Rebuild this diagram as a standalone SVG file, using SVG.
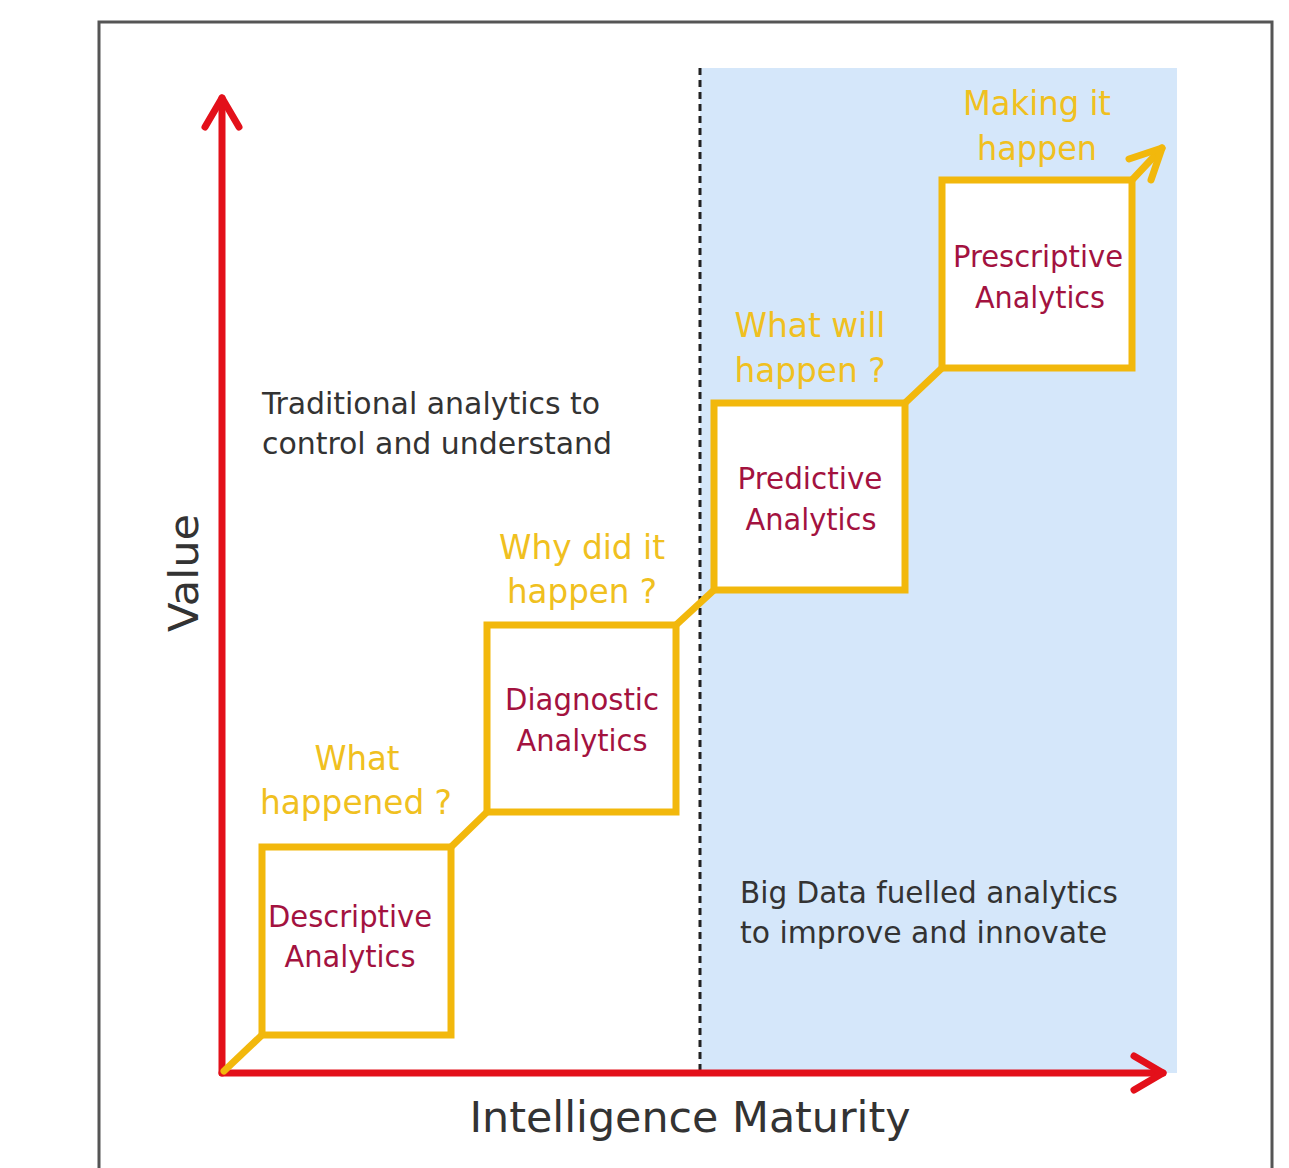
<svg xmlns="http://www.w3.org/2000/svg" width="1289" height="1168" viewBox="0 0 1289 1168">
<style>
.txt{font-family:"DejaVu Sans Condensed","DejaVu Sans",Verdana,sans-serif}
.note{font-size:30px;fill:#333333}
.q{font-size:33px;fill:#f0c020;text-anchor:middle}
.lbl{font-size:31px;fill:#a3123f;text-anchor:middle}
.box{fill:#ffffff;stroke:#f2b80c;stroke-width:7}
.yl{fill:none;stroke:#f2b80c;stroke-width:7;stroke-linecap:round;stroke-linejoin:round}
.axis{fill:none;stroke:#e3101a;stroke-width:7;stroke-linecap:round;stroke-linejoin:round}
</style>
<rect x="0" y="0" width="1289" height="1168" fill="#ffffff"/>
<g id="frame">
<path d="M99 1168 V22 H1272 V1168" fill="none" stroke="#555555" stroke-width="3"/>
</g>
<g id="region">
<rect x="700" y="68" width="477" height="1005" fill="#d5e7fa"/>
<line x1="700" y1="68" x2="700" y2="1076" stroke="#222222" stroke-width="3" stroke-dasharray="7,5"/>
</g>
<g id="connectors">
<path class="axis" d="M222 1073 V98"/>
<path class="axis" d="M205 127 L222 98 L239 127"/>
<path class="axis" d="M222 1073 H1163"/>
<path class="axis" d="M1134 1056 L1163 1073 L1134 1090"/>
<path class="yl" d="M224 1071 L262 1035"/>
<path class="yl" d="M451 847 L487 812"/>
<path class="yl" d="M676 625 L714 590"/>
<path class="yl" d="M905 403 L942 368"/>
<path class="yl" d="M1132 180 L1162 148"/>
<path class="yl" d="M1129 159 L1162 148 L1151 180"/>
</g>
<g id="descriptive">
<rect class="box" x="262" y="847" width="189" height="188"/>
<text class="txt lbl" x="350" y="927" textLength="164" lengthAdjust="spacingAndGlyphs">Descriptive</text>
<text class="txt lbl" x="350" y="967" textLength="131" lengthAdjust="spacingAndGlyphs">Analytics</text>
</g>
<g id="diagnostic">
<rect class="box" x="487" y="625" width="189" height="187"/>
<text class="txt lbl" x="582" y="710" textLength="154" lengthAdjust="spacingAndGlyphs">Diagnostic</text>
<text class="txt lbl" x="582" y="751" textLength="131" lengthAdjust="spacingAndGlyphs">Analytics</text>
</g>
<g id="predictive">
<rect class="box" x="714" y="403" width="191" height="187"/>
<text class="txt lbl" x="810" y="489" textLength="145" lengthAdjust="spacingAndGlyphs">Predictive</text>
<text class="txt lbl" x="811" y="530" textLength="131" lengthAdjust="spacingAndGlyphs">Analytics</text>
</g>
<g id="prescriptive">
<rect class="box" x="942" y="180" width="190" height="188"/>
<text class="txt lbl" x="1038" y="267" textLength="170" lengthAdjust="spacingAndGlyphs">Prescriptive</text>
<text class="txt lbl" x="1040" y="308" textLength="130" lengthAdjust="spacingAndGlyphs">Analytics</text>
</g>
<g id="questions">
<text class="txt q" x="357" y="770" textLength="85" lengthAdjust="spacingAndGlyphs">What</text>
<text class="txt q" x="356" y="814" textLength="192" lengthAdjust="spacingAndGlyphs">happened ?</text>
<text class="txt q" x="582" y="559" textLength="166" lengthAdjust="spacingAndGlyphs">Why did it</text>
<text class="txt q" x="582" y="603" textLength="150" lengthAdjust="spacingAndGlyphs">happen ?</text>
<text class="txt q" x="810" y="337" textLength="151" lengthAdjust="spacingAndGlyphs">What will</text>
<text class="txt q" x="810" y="382" textLength="151" lengthAdjust="spacingAndGlyphs">happen ?</text>
<text class="txt q" x="1037" y="115" textLength="148" lengthAdjust="spacingAndGlyphs">Making it</text>
<text class="txt q" x="1037" y="160" textLength="120" lengthAdjust="spacingAndGlyphs">happen</text>
</g>
<g id="notes">
<text class="txt note" x="262" y="414" textLength="338" lengthAdjust="spacingAndGlyphs">Traditional analytics to</text>
<text class="txt note" x="262" y="454" textLength="350" lengthAdjust="spacingAndGlyphs">control and understand</text>
<text class="txt note" x="740" y="903" textLength="378" lengthAdjust="spacingAndGlyphs">Big Data fuelled analytics</text>
<text class="txt note" x="740" y="943" textLength="367" lengthAdjust="spacingAndGlyphs">to improve and innovate</text>
</g>
<g id="axis-labels">
<text class="txt" x="690" y="1132" font-size="42" fill="#333333" text-anchor="middle" textLength="441" lengthAdjust="spacingAndGlyphs">Intelligence Maturity</text>
<text class="txt" transform="translate(198 573) rotate(-90)" font-size="40" fill="#333333" text-anchor="middle" textLength="118" lengthAdjust="spacingAndGlyphs">Value</text>
</g>
</svg>
